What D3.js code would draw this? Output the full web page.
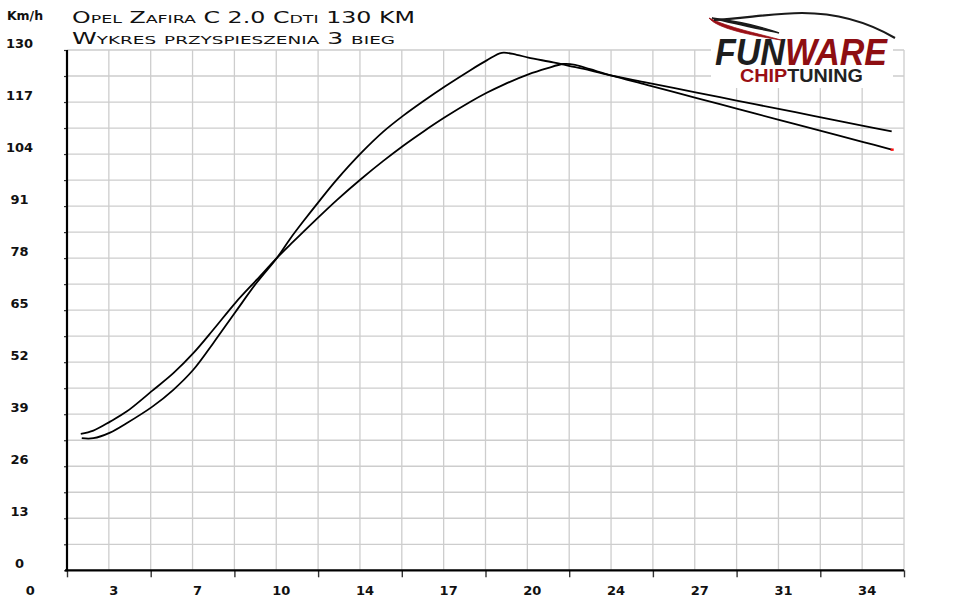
<!DOCTYPE html>
<html>
<head>
<meta charset="utf-8">
<script src="https://cdn.jsdelivr.net/npm/d3@7"></script>
<style>
html,body{margin:0;padding:0;background:#fff;}
svg{display:block;}
</style>
</head>
<body>
<svg id="chart" width="960" height="609"></svg>
<script>
// ---- data ----
const titleLines = ["Opel Zafira C 2.0 Cdti 130 KM", "Wykres przyspieszenia 3 bieg"];
const yUnit = "Km/h";
const yTickValues = [0, 13, 26, 39, 52, 65, 78, 91, 104, 117, 130];
const xTickValues = [0, 3.4, 6.8, 10.2, 13.6, 17, 20.4, 23.8, 27.2, 30.6, 34];
const xTickLabels = ["0", "3", "7", "10", "14", "17", "20", "24", "27", "31", "34"];
// curve with the later, lower peak (ends lower, red end mark)
const curveAx = [2.26, 2.77, 3.45, 4.12, 5.17, 6.02, 6.83, 7.64, 8.55, 9.41, 10.22, 10.89, 11.71, 12.66, 13.67, 14.55, 15.36, 16.17, 17.08, 18.07, 18.75, 19.42, 20.44, 21.19, 21.86, 22.34, 22.95, 23.83, 25.25, 27.28, 28.90, 30.66, 32.02, 34.05, 35.20];
const curveAy = [34.1, 34.9, 37.15, 39.65, 44.9, 49.25, 54.25, 60.1, 66.9, 72.6, 78.0, 82.1, 87.0, 92.5, 97.9, 102.3, 106.1, 109.6, 113.3, 117.0, 119.3, 121.3, 123.9, 125.4, 126.5, 126.3, 125.2, 123.6, 121.3, 118.0, 115.35, 112.5, 110.3, 107.0, 105.1];
// curve with the earlier, higher peak
const curveBx = [2.30, 2.77, 3.45, 4.12, 5.17, 6.02, 6.83, 7.64, 8.55, 9.41, 10.22, 10.76, 11.30, 11.98, 12.66, 13.67, 14.55, 15.36, 16.17, 17.08, 18.07, 18.75, 19.36, 19.97, 20.44, 21.45, 22.13, 22.95, 23.83, 25.25, 27.28, 28.90, 30.66, 32.02, 34.05, 35.20];
const curveBy = [33.0, 33.0, 34.4, 36.75, 40.9, 45.1, 50.1, 56.75, 64.6, 71.9, 78.0, 82.8, 87.2, 92.5, 97.6, 104.4, 109.6, 113.6, 117.2, 121.0, 124.9, 127.4, 129.3, 128.8, 128.1, 126.9, 126.0, 124.9, 123.6, 121.86, 119.37, 117.38, 115.22, 113.55, 111.06, 109.65];

// ---- layout ----
const svg = d3.select("#chart");
const L = 67, R = 904, T = 50, B = 570.3;
const xStep = 1.7;
const x = d3.scaleLinear().domain([1.7, 35.7]).range([L, R]);
const y = d3.scaleLinear().domain([0, 130]).range([B, T]);
const gridX = d3.range(0, 21).map(i => 1.7 + i * xStep);
const gridY = d3.range(0, 21).map(i => i * 6.5);

// grid
const grid = svg.append("g").attr("stroke", "#cdcdcd").attr("stroke-width", 1.3);
grid.selectAll("line.v").data(gridX).join("line").attr("class", "v")
  .attr("x1", d => x(d)).attr("x2", d => x(d)).attr("y1", T).attr("y2", B);
grid.selectAll("line.h").data(gridY).join("line").attr("class", "h")
  .attr("x1", L).attr("x2", R).attr("y1", d => y(d)).attr("y2", d => y(d));

// x ticks (every other gridline, below axis)
svg.append("g").attr("transform", `translate(0,${B})`)
  .call(d3.axisBottom(x).tickValues(gridX.filter((d, i) => i % 2 === 0)).tickSize(7).tickFormat(""))
  .call(g => g.select(".domain").remove())
  .call(g => g.selectAll(".tick line").attr("stroke", "#333").attr("stroke-width", 1.4));

// y ticks (small, left of axis)
svg.append("g").attr("transform", `translate(${L},0)`)
  .call(d3.axisLeft(y).tickValues(gridY).tickSize(3).tickFormat(""))
  .call(g => g.select(".domain").remove())
  .call(g => g.selectAll(".tick line").attr("stroke", "#333").attr("stroke-width", 1.2));

// axes lines
svg.append("line").attr("x1", L).attr("x2", L).attr("y1", T).attr("y2", B + 1)
  .attr("stroke", "#000").attr("stroke-width", 2.2);
svg.append("line").attr("x1", L - 2).attr("x2", R).attr("y1", B).attr("y2", B)
  .attr("stroke", "#000").attr("stroke-width", 2.2);

// x labels
svg.append("g").selectAll("text").data(xTickValues).join("text")
  .attr("x", d => x(d) + 5).attr("y", 595)
  .attr("text-anchor", "middle")
  .attr("font-family", "DejaVu Sans").attr("font-weight", "bold").attr("font-size", 13)
  .attr("fill", "#111")
  .text((d, i) => xTickLabels[i]);

// y labels
svg.append("g").selectAll("text").data(yTickValues).join("text")
  .attr("x", 19.5).attr("y", d => y(d) - 2)
  .attr("text-anchor", "middle")
  .attr("font-family", "DejaVu Sans").attr("font-weight", "bold").attr("font-size", 13)
  .attr("fill", "#111")
  .text(d => d);

svg.append("text").attr("x", 25).attr("y", 20).attr("text-anchor", "middle")
  .attr("font-family", "DejaVu Sans").attr("font-weight", "bold").attr("font-size", 12.5)
  .attr("fill", "#111").text(yUnit);

// titles
const titleY = [22.5, 43.5], titleW = [343, 323];
svg.append("g").selectAll("text").data(titleLines).join("text")
  .attr("x", 72).attr("y", (d, i) => titleY[i])
  .attr("font-family", "DejaVu Sans").attr("font-size", 15)
  .style("font-variant", "small-caps")
  .attr("textLength", (d, i) => titleW[i]).attr("lengthAdjust", "spacingAndGlyphs")
  .attr("fill", "#111")
  .text(d => d);

// curves
const line = d3.line().x(d => x(d[0])).y(d => y(d[1])).curve(d3.curveCatmullRom.alpha(0.5));
const dataA = curveAx.map((v, i) => [v, curveAy[i]]);
const dataB = curveBx.map((v, i) => [v, curveBy[i]]);
svg.append("path").datum(dataA).attr("d", line).attr("fill", "none")
  .attr("stroke", "#000").attr("stroke-width", 1.8);
svg.append("path").datum(dataB).attr("d", line).attr("fill", "none")
  .attr("stroke", "#000").attr("stroke-width", 1.8);
const lastA = dataA[dataA.length - 1];
svg.append("rect").attr("x", x(lastA[0]) - 1).attr("y", y(lastA[1]) - 1.2)
  .attr("width", 3).attr("height", 2.4).attr("fill", "#ff1010");

// logo
const logo = svg.append("g");
logo.append("rect").attr("x", 711).attr("y", 0).attr("width", 182).attr("height", 88).attr("fill", "#fff");
logo.append("path")
  .attr("d", "M709,18 C716,27 742,34 781,40 C756,33 730,28 709,18 Z")
  .attr("fill", "#9a1016").attr("stroke", "#9a1016").attr("stroke-width", 0.8);
logo.append("path")
  .attr("d", "M712,18 C735,21 760,26 779,33 C760,29 735,24 712,18 Z")
  .attr("fill", "#1a1a1a").attr("stroke", "#1a1a1a").attr("stroke-width", 1.4);
logo.append("path")
  .attr("d", "M714,20 C742,19 772,13 802,13 C836,13 866,21 895,38")
  .attr("fill", "none").attr("stroke", "#1a1a1a").attr("stroke-width", 2.2);
logo.append("text").attr("x", 715).attr("y", 65)
  .attr("font-family", "Liberation Sans").attr("font-weight", "bold").attr("font-style", "italic")
  .attr("font-size", 37).attr("textLength", 172).attr("lengthAdjust", "spacingAndGlyphs")
  .call(t => { t.append("tspan").attr("fill", "#1e1e1e").text("FUN");
               t.append("tspan").attr("fill", "#8e0e12").text("WARE"); });
logo.append("text").attr("x", 740).attr("y", 81.5)
  .attr("font-family", "Liberation Sans").attr("font-weight", "bold")
  .attr("font-size", 18).attr("textLength", 123).attr("lengthAdjust", "spacingAndGlyphs")
  .call(t => { t.append("tspan").attr("fill", "#9a0f14").text("CHIP");
               t.append("tspan").attr("fill", "#222").text("TUNING"); });
</script>
</body>
</html>
